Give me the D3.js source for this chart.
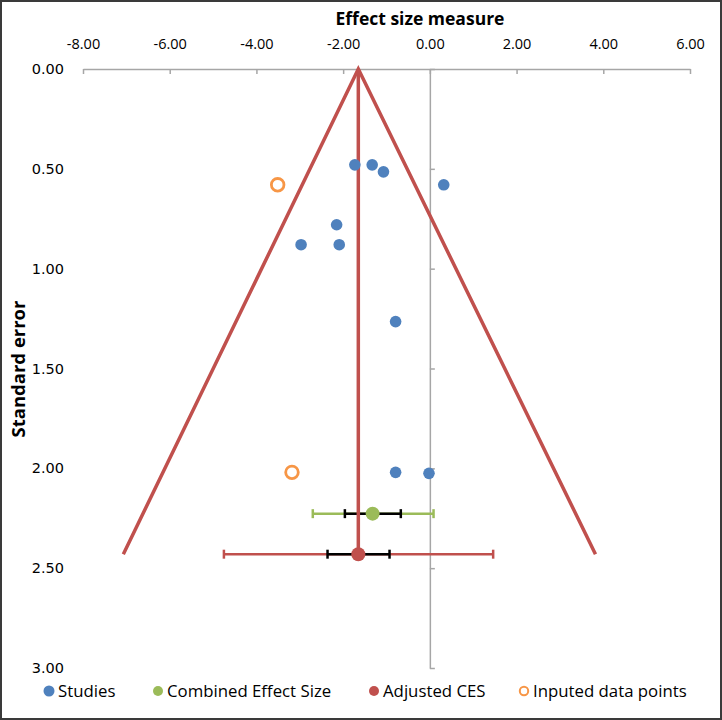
<!DOCTYPE html>
<html><head><meta charset="utf-8">
<script src="https://cdn.jsdelivr.net/npm/d3@7"></script>
<style>
html,body{margin:0;padding:0;background:#fff;}
svg{display:block;}
</style></head>
<body>
<script>
// ---- data ----
const xTicks = [-8, -6, -4, -2, 0, 2, 4, 6];
const yTicks = [0, 0.5, 1, 1.5, 2, 2.5, 3];
const studyX  = [-1.73, -1.33, -1.07, 0.32, -2.15, -2.97, -2.09, -0.79, -0.79, -0.02];
const studySE = [0.48, 0.48, 0.515, 0.58, 0.78, 0.88, 0.88, 1.265, 2.02, 2.025];
const imputedX  = [-3.51, -3.18];
const imputedSE = [0.58, 2.02];
const funnelX  = [-7.07, -1.65, 3.82];
const funnelSE = [2.43, 0, 2.43];
const centerX  = [-1.65, -1.65];
const centerSE = [0, 2.43];
// [estimate, se, ciLow, ciHigh, innerLow, innerHigh]
const cesValues = [-1.32, 2.227, -2.70, 0.085, -1.96, -0.67];
const adjValues = [-1.65, 2.43, -4.75, 1.46, -2.36, -0.93];
const legendLabels = ["Studies", "Combined Effect Size", "Adjusted CES", "Inputed data points"];

const W = 722, H = 720;
const C = {blue:"#4f81bd", green:"#9bbb59", red:"#c0504d", orange:"#f79646", axis:"#a6a6a6"};
const svg = d3.select("body").append("svg").attr("width", W).attr("height", H);

svg.append("rect").attr("x",1).attr("y",1).attr("width",W-2).attr("height",H-2)
  .attr("fill","#fff").attr("stroke","#3a3a3a").attr("stroke-width",2);

const x = d3.scaleLinear().domain([-8, 6]).range([83, 690]);
const y = d3.scaleLinear().domain([0, 3]).range([69, 668]);
const fmt = v => d3.format(".2f")(v).replace("\u2212", "-");

// top axis
const gx = svg.append("g").attr("transform", `translate(0,${y(0)})`)
  .call(d3.axisBottom(x).tickValues(xTicks).tickSize(5).tickSizeOuter(0).tickFormat(fmt));
gx.select(".domain").attr("stroke", C.axis).attr("stroke-width", 1.5);
gx.selectAll(".tick line").attr("stroke", C.axis).attr("stroke-width", 1.5);
gx.selectAll(".tick text").attr("y", -25).attr("dy", "0.35em")
  .attr("font-family", "Open Sans, sans-serif").attr("font-size", 14.5).attr("fill", "#000");

svg.append("text").attr("x", 420).attr("y", 19).attr("dy","0.35em").attr("text-anchor","middle")
  .attr("font-family","Open Sans, sans-serif").attr("font-weight","bold").attr("font-size",17.5)
  .text("Effect size measure");

// vertical axis line at x = 0
const gy = svg.append("g").attr("transform", `translate(${x(0)},0)`)
  .call(d3.axisRight(y).tickValues(yTicks).tickSize(5).tickSizeOuter(0).tickFormat(""));
gy.select(".domain").attr("stroke", C.axis).attr("stroke-width", 1.5);
gy.selectAll(".tick line").attr("stroke", C.axis).attr("stroke-width", 1.5);

// y labels at left
const gyl = svg.append("g").attr("transform", `translate(64,0)`)
  .call(d3.axisLeft(y).tickValues(yTicks).tickSize(0).tickFormat(fmt));
gyl.select(".domain").remove();
gyl.selectAll(".tick text").attr("x", 0)
  .attr("font-family", "DejaVu Sans, sans-serif").attr("font-size", 14.5).attr("fill", "#000");

svg.append("text").attr("transform", `translate(19,369) rotate(-90)`).attr("dy","0.35em")
  .attr("text-anchor","middle").attr("font-family","Open Sans, sans-serif").attr("font-weight","bold")
  .attr("font-size",18.5).text("Standard error");

// error bars
function errBar(vals, color) {
  const [est, se, lo, hi, ilo, ihi] = vals;
  const yy = y(se);
  const g = svg.append("g");
  g.append("line").attr("x1", x(lo)).attr("x2", x(hi)).attr("y1", yy).attr("y2", yy)
    .attr("stroke", color).attr("stroke-width", 2.5);
  [lo, hi].forEach(v => g.append("line").attr("x1", x(v)).attr("x2", x(v)).attr("y1", yy-4.5).attr("y2", yy+4.5)
    .attr("stroke", color).attr("stroke-width", 2.5));
  g.append("line").attr("x1", x(ilo)).attr("x2", x(ihi)).attr("y1", yy).attr("y2", yy)
    .attr("stroke", "#000").attr("stroke-width", 2.5);
  [ilo, ihi].forEach(v => g.append("line").attr("x1", x(v)).attr("x2", x(v)).attr("y1", yy-4.5).attr("y2", yy+4.5)
    .attr("stroke", "#000").attr("stroke-width", 2.5));
}
errBar(cesValues, C.green);
errBar(adjValues, C.red);

// funnel
const line = d3.line().x(d => x(d[0])).y(d => y(d[1]));
svg.append("path").datum(funnelX.map((v,i)=>[v, funnelSE[i]])).attr("d", line)
  .attr("fill","none").attr("stroke", C.red).attr("stroke-width", 3.5).attr("stroke-linejoin","miter");
svg.append("path").datum(centerX.map((v,i)=>[v, centerSE[i]])).attr("d", line)
  .attr("fill","none").attr("stroke", C.red).attr("stroke-width", 3.5);

// points
svg.append("g").selectAll("circle").data(studyX.map((v,i)=>[v, studySE[i]])).join("circle")
  .attr("cx", d=>x(d[0])).attr("cy", d=>y(d[1])).attr("r", 5.8).attr("fill", C.blue);
svg.append("g").selectAll("circle").data(imputedX.map((v,i)=>[v, imputedSE[i]])).join("circle")
  .attr("cx", d=>x(d[0])).attr("cy", d=>y(d[1])).attr("r", 6.3).attr("fill", "#fff")
  .attr("stroke", C.orange).attr("stroke-width", 2.8);
svg.append("circle").attr("cx", x(cesValues[0])).attr("cy", y(cesValues[1])).attr("r", 7).attr("fill", C.green);
svg.append("circle").attr("cx", x(adjValues[0])).attr("cy", y(adjValues[1])).attr("r", 7).attr("fill", C.red);

// legend
const legX = [49, 158, 374, 524];
const legStyle = [{f:C.blue, r:5.5}, {f:C.green, r:5}, {f:C.red, r:5}, {f:"#fff", s:C.orange, r:4.2}];
const lg = svg.append("g");
legendLabels.forEach((t, i) => {
  const st = legStyle[i];
  lg.append("circle").attr("cx", legX[i]).attr("cy", 691).attr("r", st.r)
    .attr("fill", st.f).attr("stroke", st.s || "none").attr("stroke-width", st.s ? 2 : 0);
  lg.append("text").attr("x", legX[i] + 9).attr("y", 691).attr("dy","0.35em")
    .attr("font-family","Open Sans, sans-serif").attr("font-size", 16.8).text(t);
});
</script>
</body></html>
